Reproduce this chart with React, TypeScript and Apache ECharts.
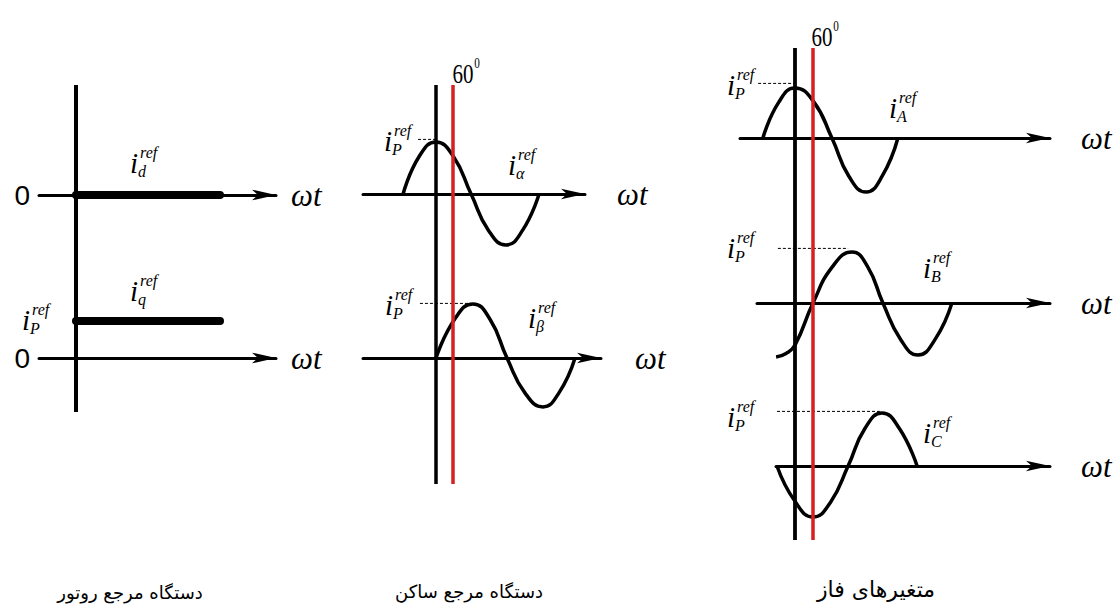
import React, { useEffect, useRef } from "react";
import * as echarts from "echarts";

// ωt in electrical degrees, currents in per-unit of the peak current i_P

// rotor (d-q) frame: constant references
const rotorSpan = [0, 360];
const idRef = 0;
const iqRef = 1;

// angle of the marked instant (red line)
const markAngle = 60;
// level of the dashed i_P guides
const ipLevel = 1.05;

// stationary (α-β) frame
const alphaWave = [
  [-121, 0], [-62, 0.72], [0, 1], [64, 0.72], [129, 0],
  [193, -0.7], [257, -0.98], [318, -0.7], [379, 0],
];
const betaWave = [
  [0, 0], [68, 0.74], [136, 1.04], [199, 0.74], [261, 0],
  [327, -0.67], [393, -0.94], [452, -0.67], [511, 0],
];
const alphaGuide = [-66, 0];
const betaGuide = [-59, 125];

// phase quantities
const phaseA = [
  [-107, 0], [-55, 0.68], [0, 0.96], [62, 0.7], [123, 0],
  [180, -0.74], [237, -1.04], [290, -0.74], [343, 0],
];
const phaseB = [
  [-63, -1.04], [-30, -0.97], [0, -0.81], [60, 0], [125, 0.7],
  [190, 0.98], [242, 0.7], [293, 0], [352, -0.7], [410, -1], [467, -0.7], [523, 0],
];
const phaseC = [
  [-60, 0], [0, -0.68], [60, -0.98], [118, -0.7], [177, 0],
  [233, 0.72], [290, 1.02], [348, 0.72], [407, 0],
];
const guideA = [-123, 0];
const guideB = [-57, 177];
const guideC = [-60, 283];

const axisName = "ωt";
const captions = ["دستگاه مرجع روتور", "دستگاه مرجع ساکن", "متغیرهای فاز"];

const INK = "#000";
const RED = "#d42222";
const SERIF = '"Liberation Serif", "DejaVu Serif", serif';

type Frame = { x0: number; k: number; u: number };
const rotorFrame: Frame = { x0: 76, k: 0.4, u: 37 };
const statFrame: Frame = { x0: 436, k: 0.272, u: 52 };
const phaseFrame: Frame = { x0: 795, k: 0.3, u: 52 };

function buildOption() {
  const grid: any[] = [];
  const xAxis: any[] = [];
  const yAxis: any[] = [];
  const series: any[] = [];

  const nameStyle = { fontFamily: SERIF, fontStyle: "italic", fontSize: 31, color: INK };

  // one ωt axis with its arrow; returns the grid index
  const addPlot = (f: Frame, y0: number, left: number, end: number, nameGap: number, zeroLabel: boolean) => {
    const idx = grid.length;
    grid.push({ left, top: y0 - 1.5 * f.u, width: end - left, height: 3 * f.u });
    xAxis.push({
      gridIndex: idx,
      type: "value",
      min: (left - f.x0) / f.k,
      max: (end - f.x0) / f.k,
      axisLine: {
        show: true,
        onZero: true,
        symbol: ["none", "arrow"],
        symbolSize: [8, 24],
        lineStyle: { color: INK, width: 3 },
      },
      axisTick: { show: false },
      axisLabel: { show: false },
      splitLine: { show: false },
      name: "{w|" + axisName + "}",
      nameLocation: "end",
      nameGap,
      nameTextStyle: { ...nameStyle, align: "left", verticalAlign: "middle", rich: { w: nameStyle } },
    });
    yAxis.push({
      gridIndex: idx,
      type: "value",
      min: -1.5,
      max: 1.5,
      interval: 1.5,
      axisLine: { show: false },
      axisTick: { show: false },
      splitLine: { show: false },
      axisLabel: zeroLabel
        ? {
            show: true,
            margin: 9,
            fontFamily: "Liberation Sans",
            fontSize: 28,
            color: INK,
            formatter: (v: number) => (v === 0 ? "0" : ""),
          }
        : { show: false },
    });
    return idx;
  };

  // the vertical ωt = 0 line of a panel, optionally with the marked angle
  const addFrame = (f: Frame, top: number, bottom: number, width: number, withMark: boolean) => {
    const idx = grid.length;
    const left = f.x0 - 60;
    const right = f.x0 + 120;
    grid.push({ left, top, width: right - left, height: bottom - top });
    xAxis.push({ gridIndex: idx, type: "value", show: false, min: (left - f.x0) / f.k, max: (right - f.x0) / f.k });
    yAxis.push({ gridIndex: idx, type: "value", show: false, min: 0, max: 1 });
    series.push({
      type: "line",
      xAxisIndex: idx,
      yAxisIndex: idx,
      data: [[0, 0], [0, 1]],
      showSymbol: false,
      silent: true,
      clip: false,
      lineStyle: { color: INK, width },
      z: 3,
      markLine: withMark
        ? {
            silent: true,
            symbol: ["none", "none"],
            label: { show: false },
            lineStyle: { color: RED, width: 3.5, type: "solid" },
            data: [{ xAxis: markAngle }],
            z: 4,
          }
        : undefined,
    });
  };

  const curve = (idx: number, data: number[][]) =>
    series.push({
      type: "line",
      xAxisIndex: idx,
      yAxisIndex: idx,
      data,
      smooth: 0.5,
      showSymbol: false,
      silent: true,
      clip: false,
      lineStyle: { color: INK, width: 3.5 },
      z: 2,
    });

  const guide = (idx: number, span: number[]) =>
    series.push({
      type: "line",
      xAxisIndex: idx,
      yAxisIndex: idx,
      data: [[span[0], ipLevel], [span[1], ipLevel]],
      showSymbol: false,
      silent: true,
      clip: false,
      lineStyle: { color: INK, width: 1, type: [3, 2] },
      z: 2,
    });

  const bar = (idx: number, level: number) =>
    series.push({
      type: "line",
      xAxisIndex: idx,
      yAxisIndex: idx,
      data: [[rotorSpan[0], level], [rotorSpan[1], level]],
      showSymbol: false,
      silent: true,
      clip: false,
      lineStyle: { color: INK, width: 8, cap: "round" },
      z: 2,
    });

  // rotor frame
  const dPlot = addPlot(rotorFrame, 195, 39, 276, 15, true);
  const qPlot = addPlot(rotorFrame, 358, 39, 276, 15, true);
  bar(dPlot, idRef);
  bar(qPlot, iqRef);
  addFrame(rotorFrame, 85, 412, 4, false);

  // stationary frame
  const aPlot = addPlot(statFrame, 194, 363, 585, 32, false);
  const bPlot = addPlot(statFrame, 358, 363, 601, 34, false);
  curve(aPlot, alphaWave);
  curve(bPlot, betaWave);
  guide(aPlot, alphaGuide);
  guide(bPlot, betaGuide);
  addFrame(statFrame, 85, 484, 3.5, true);

  // phase quantities
  const pA = addPlot(phaseFrame, 138, 740, 1050, 31, false);
  const pB = addPlot(phaseFrame, 303, 757, 1050, 31, false);
  const pC = addPlot(phaseFrame, 466, 776, 1050, 31, false);
  curve(pA, phaseA);
  curve(pB, phaseB);
  curve(pC, phaseC);
  guide(pA, guideA);
  guide(pB, guideB);
  guide(pC, guideC);
  addFrame(phaseFrame, 48, 540, 3.8, true);

  // i^{ref}_{sub} symbol
  const refLabel = (cx: number, cy: number, sub: string) => ({
    type: "group",
    silent: true,
    children: [
      { type: "text", x: cx, y: cy, style: { text: "i", fontFamily: SERIF, fontStyle: "italic", fontSize: 29, fill: INK, align: "center", verticalAlign: "middle" } },
      { type: "text", x: cx + 6, y: cy - 11, style: { text: "ref", fontFamily: SERIF, fontStyle: "italic", fontSize: 16, fill: INK, align: "left", verticalAlign: "middle" } },
      { type: "text", x: cx + 4, y: cy + 8, style: { text: sub, fontFamily: SERIF, fontStyle: "italic", fontSize: 16, fill: INK, align: "left", verticalAlign: "middle" } },
    ],
  });

  const angleLabel = (cx: number, cy: number) => ({
    type: "group",
    silent: true,
    children: [
      { type: "text", x: cx, y: cy, scaleX: 0.75, style: { text: String(markAngle), fontFamily: SERIF, fontSize: 28, fill: INK, align: "center", verticalAlign: "middle" } },
      { type: "text", x: cx + 14, y: cy - 9, scaleX: 0.8, style: { text: "0", fontFamily: SERIF, fontSize: 14, fill: INK, align: "center", verticalAlign: "middle" } },
    ],
  });

  const caption = (x: number, y: number, text: string, size: number) => ({
    type: "text",
    x,
    y,
    silent: true,
    style: { text, fontFamily: "DejaVu Sans", fontSize: size, fill: INK, align: "center", verticalAlign: "middle" },
  });

  const graphic = [
    refLabel(134, 163, "d"),
    refLabel(134, 291, "q"),
    refLabel(26, 320, "P"),
    refLabel(388, 141, "P"),
    refLabel(512, 165, "α"),
    refLabel(389, 305, "P"),
    refLabel(532, 318, "β"),
    refLabel(731, 85, "P"),
    refLabel(893, 108, "A"),
    refLabel(731, 248, "P"),
    refLabel(927, 268, "B"),
    refLabel(731, 417, "P"),
    refLabel(927, 433, "C"),
    angleLabel(463, 73),
    angleLabel(822, 36),
    caption(130, 592, captions[0], 18),
    caption(469, 591, captions[1], 18),
    caption(876, 589, captions[2], 22),
  ];

  return {
    animation: false,
    backgroundColor: "#fff",
    grid,
    xAxis,
    yAxis,
    series,
    graphic,
  };
}

export default function App() {
  const ref = useRef<HTMLDivElement>(null);
  useEffect(() => {
    const chart = echarts.init(ref.current!, null, { renderer: "svg" });
    chart.setOption(buildOption() as any);
    return () => chart.dispose();
  }, []);
  return (
    <div
      ref={ref}
      style={{ position: "fixed", left: 0, top: 0, width: 1115, height: 608, background: "#fff" }}
    />
  );
}
